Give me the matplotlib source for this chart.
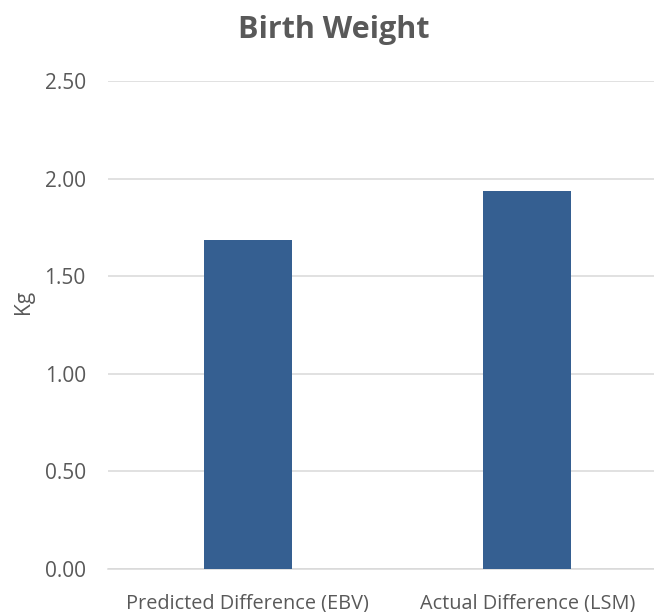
import matplotlib
matplotlib.use("Agg")
import matplotlib.pyplot as plt

categories = ["Predicted Difference (EBV)", "Actual Difference (LSM)"]
values = [1.685, 1.935]
yticks = [0.0, 0.5, 1.0, 1.5, 2.0, 2.5]
title = "Birth Weight"
ylabel = "Kg"

W, H = 654, 612
fig = plt.figure(figsize=(W/100, H/100), dpi=100)
plt.rcParams['font.family'] = ['Open Sans', 'DejaVu Sans']
txt = '#595959'
grid = '#D9D9D9'
bar_c = '#355F91'

left, right, top, bottom = 108, 667, 81, 569
ax = fig.add_axes([left/W, 1-bottom/H, (right-left)/W, (bottom-top)/H])
x = list(range(len(categories)))
ax.bar(x, values, width=0.315, color=bar_c, zorder=3)
ax.set_xlim(-0.5, len(categories)-0.5)
ax.set_ylim(0, 2.5)
ax.set_yticks(yticks)
ax.set_yticklabels([f"{v:.2f}" for v in yticks])
ax.set_xticks(x)
ax.set_xticklabels(categories)
ax.grid(axis='y', color=grid, lw=1.1, zorder=0)
for s in ['top', 'right', 'left']:
    ax.spines[s].set_visible(False)
ax.spines['bottom'].set_color(grid)
ax.spines['bottom'].set_linewidth(1.1)
ax.tick_params(axis='y', length=0, pad=16, labelsize=15, labelcolor=txt)
ax.tick_params(axis='x', length=0, pad=17.5, labelsize=14.3, labelcolor=txt)
fig.text(23/W, 1-302/H, ylabel, rotation=90, ha='center', va='center', fontsize=15, color=txt)
fig.text(333.5/W, 1-38/H, title, ha='center', va='baseline', fontsize=22, fontweight='bold', color=txt)
fig.savefig("out.png", dpi=100)
